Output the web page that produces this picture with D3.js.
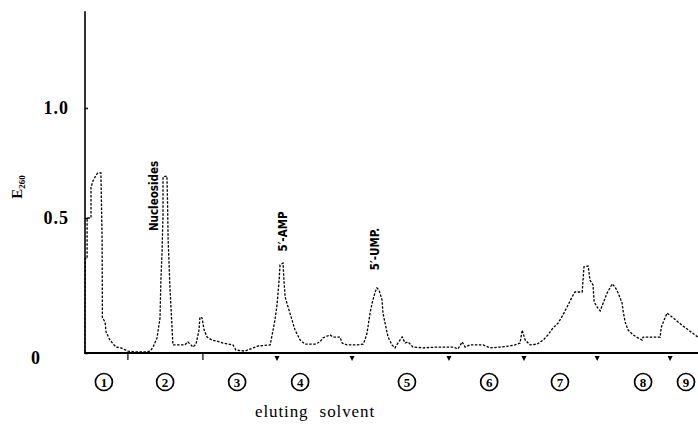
<!DOCTYPE html>
<html>
<head>
<meta charset="utf-8">
<script src="https://cdn.jsdelivr.net/npm/d3@7"></script>
<style>
  html, body { margin: 0; padding: 0; background: #fff; }
  svg { display: block; }
</style>
</head>
<body>
<svg id="chart" width="698" height="426"></svg>
<script>
// ---- data (fraction number, E260) ----
const fractions = [0,0,0.1,0.7,0.7,2.0,2.0,2.7,3.7,4.3,5.3,5.7,5.8,6.7,7.0,8.3,10.3,12.0,14.3,16.7,20.0,21.7,22.7,24.0,25.0,25.3,25.7,25.8,26.0,26.0,27.3,27.5,27.7,28.0,28.3,29.0,29.3,33.3,34.3,35.3,36.0,37.0,38.0,38.3,39.0,39.7,40.7,42.3,44.0,46.0,49.3,50.3,53.3,57.7,61.7,62.3,63.3,64.0,64.7,65.0,66.0,66.3,66.7,67.7,69.0,70.0,71.7,73.3,76.7,78.3,79.3,81.7,82.7,85.0,85.7,87.3,90.7,92.7,93.3,94.0,95.0,95.7,96.7,97.3,98.0,99.0,99.3,100.0,101.0,102.3,103.3,104.3,105.7,106.7,107.7,109.3,112.7,117.3,122.7,124.3,125.7,126.7,128.3,132.7,135.0,138.3,141.7,143.3,145.0,145.7,146.7,148.3,150.7,152.7,154.3,156.0,157.7,159.3,161.0,162.3,163.3,165.7,166.3,167.7,168.3,169.3,169.7,170.7,171.7,172.7,174.0,175.7,176.7,177.7,179.0,179.3,180.0,181.0,182.7,184.3,185.7,186.0,191.7,192.0,193.0,194.0,196.0,199.3,203.3,204.3];
const e260 = [0.004,0.13,0.35,0.35,0.50,0.50,0.64,0.67,0.695,0.705,0.705,0.42,0.13,0.115,0.078,0.048,0.022,0.019,0.007,0.004,0.004,0.007,0.022,0.056,0.13,0.27,0.38,0.43,0.51,0.686,0.691,0.58,0.42,0.337,0.244,0.096,0.030,0.030,0.041,0.030,0.022,0.033,0.085,0.133,0.13,0.085,0.059,0.048,0.044,0.037,0.030,0.011,0.007,0.026,0.030,0.063,0.122,0.178,0.27,0.326,0.333,0.27,0.207,0.17,0.122,0.085,0.048,0.033,0.033,0.041,0.056,0.067,0.059,0.059,0.037,0.030,0.030,0.033,0.048,0.074,0.148,0.185,0.226,0.241,0.233,0.196,0.148,0.111,0.059,0.030,0.019,0.037,0.059,0.037,0.041,0.022,0.019,0.022,0.022,0.015,0.041,0.022,0.030,0.030,0.019,0.022,0.026,0.030,0.037,0.085,0.048,0.030,0.033,0.048,0.067,0.093,0.111,0.141,0.178,0.207,0.226,0.226,0.319,0.322,0.27,0.252,0.189,0.170,0.156,0.185,0.222,0.256,0.244,0.222,0.185,0.159,0.115,0.085,0.067,0.056,0.048,0.059,0.059,0.093,0.122,0.148,0.13,0.10,0.067,0.059];

const yTicks = [0, 0.5, 1.0];
const yTickLabels = ["0", "0.5", "1.0"];
const solventChanges = [14.3, 39.3, 64.0, 89.0, 121.3, 146.3, 170.7, 195.0];
const solventLabels = ["1","2","3","4","5","6","7","8","9"];
const solventLabelPos = [6.3, 26.7, 50.7, 71.7, 107.3, 134.7, 158.3, 186.0, 200.3];
const annotations = [
  { text: "Nucleosides", f: 23.0, v: 0.60 },
  { text: "5\u2032-AMP", f: 66.0, v: 0.45 },
  { text: "5\u2032-UMP.", f: 96.7, v: 0.385 }
];

// ---- scales ----
const svg = d3.select("#chart");
const x = d3.scaleLinear().domain([0, 204.3]).range([85, 698]);
const y = d3.scaleLinear().domain([0, 0.5, 1.0]).range([353, 218, 108]);
const yTop = 1.44;

const serif = "'Liberation Serif','DejaVu Serif',serif";
const cond = "'DejaVu Sans Condensed','Liberation Sans Narrow','DejaVu Sans',sans-serif";

// ---- axes ----
svg.append("line")
  .attr("x1", x(0)).attr("x2", x(0))
  .attr("y1", y(yTop)).attr("y2", y(0))
  .attr("stroke", "#000").attr("stroke-width", 1.6);
svg.append("line")
  .attr("x1", x(0) - 1).attr("x2", x(204.3))
  .attr("y1", y(0)).attr("y2", y(0))
  .attr("stroke", "#000").attr("stroke-width", 2);

const yAxis = d3.axisLeft(y)
  .tickValues(yTicks)
  .tickFormat((d, i) => yTickLabels[i])
  .tickSizeInner(-3).tickSizeOuter(0).tickPadding(16);
const gy = svg.append("g").attr("transform", `translate(${x(0)},0)`).call(yAxis);
gy.select(".domain").remove();
gy.selectAll(".tick line").attr("stroke", "#000").attr("stroke-width", 1.5);
gy.selectAll(".tick text")
  .attr("font-family", serif).attr("font-size", 18).attr("font-weight", "bold")
  .attr("letter-spacing", "1px").attr("fill", "#000")
  .attr("dx", d => d === 0 ? -28 : 0)
  .attr("dy", d => d === 0 ? "0.6em" : "0.32em");

// Y label E260 (rotated)
const yl = svg.append("text")
  .attr("transform", "translate(22,187) rotate(-90)")
  .attr("text-anchor", "middle")
  .attr("font-family", serif).attr("font-size", 15).attr("font-weight", "bold");
yl.append("tspan").text("E");
yl.append("tspan").attr("font-size", 9).attr("dy", 3).text("260");

// solvent change markers
svg.selectAll("path.marker").data(solventChanges).enter().append("path")
  .attr("class", "marker")
  .attr("d", (d, i) => i < 2
    ? `M${x(d) - 0.6},${y(0) + 1} L${x(d) + 0.6},${y(0) + 1} L${x(d) + 0.6},${y(0) + 7} L${x(d) - 0.6},${y(0) + 7} Z`
    : `M${x(d) - 2.5},${y(0) + 3} L${x(d) + 2.5},${y(0) + 3} L${x(d)},${y(0) + 8} Z`)
  .attr("fill", "#000");

// circled solvent numbers
const cl = svg.selectAll("g.sol").data(solventLabels).enter().append("g")
  .attr("class", "sol")
  .attr("transform", (d, i) => `translate(${x(solventLabelPos[i])},382)`);
cl.append("circle").attr("r", 8.5).attr("fill", "none").attr("stroke", "#000").attr("stroke-width", 1.7);
cl.append("text").text(d => d)
  .attr("text-anchor", "middle").attr("dy", "0.36em")
  .attr("font-family", serif).attr("font-size", 13).attr("font-weight", "bold");

// x label
svg.append("text")
  .attr("x", 315).attr("y", 417)
  .attr("text-anchor", "middle")
  .attr("font-family", serif).attr("font-size", 17)
  .attr("letter-spacing", "0.9px").attr("word-spacing", "6px")
  .text("eluting solvent");

// ---- curve ----
const pts = fractions.map((f, i) => [f, e260[i]]);
const line = d3.line().x(d => x(d[0])).y(d => y(d[1]));
svg.append("path")
  .attr("d", line(pts))
  .attr("fill", "none").attr("stroke", "#000")
  .attr("stroke-width", 1.3)
  .attr("stroke-dasharray", "2.5,1.5");

// ---- annotations ----
svg.selectAll("text.ann").data(annotations).enter().append("text")
  .attr("class", "ann")
  .attr("transform", d => `translate(${x(d.f) + 4},${y(d.v)}) rotate(-90)`)
  .attr("text-anchor", "middle")
  .attr("font-family", cond).attr("font-size", 11.5).attr("font-weight", "bold")
  .text(d => d.text);
</script>
</body>
</html>
